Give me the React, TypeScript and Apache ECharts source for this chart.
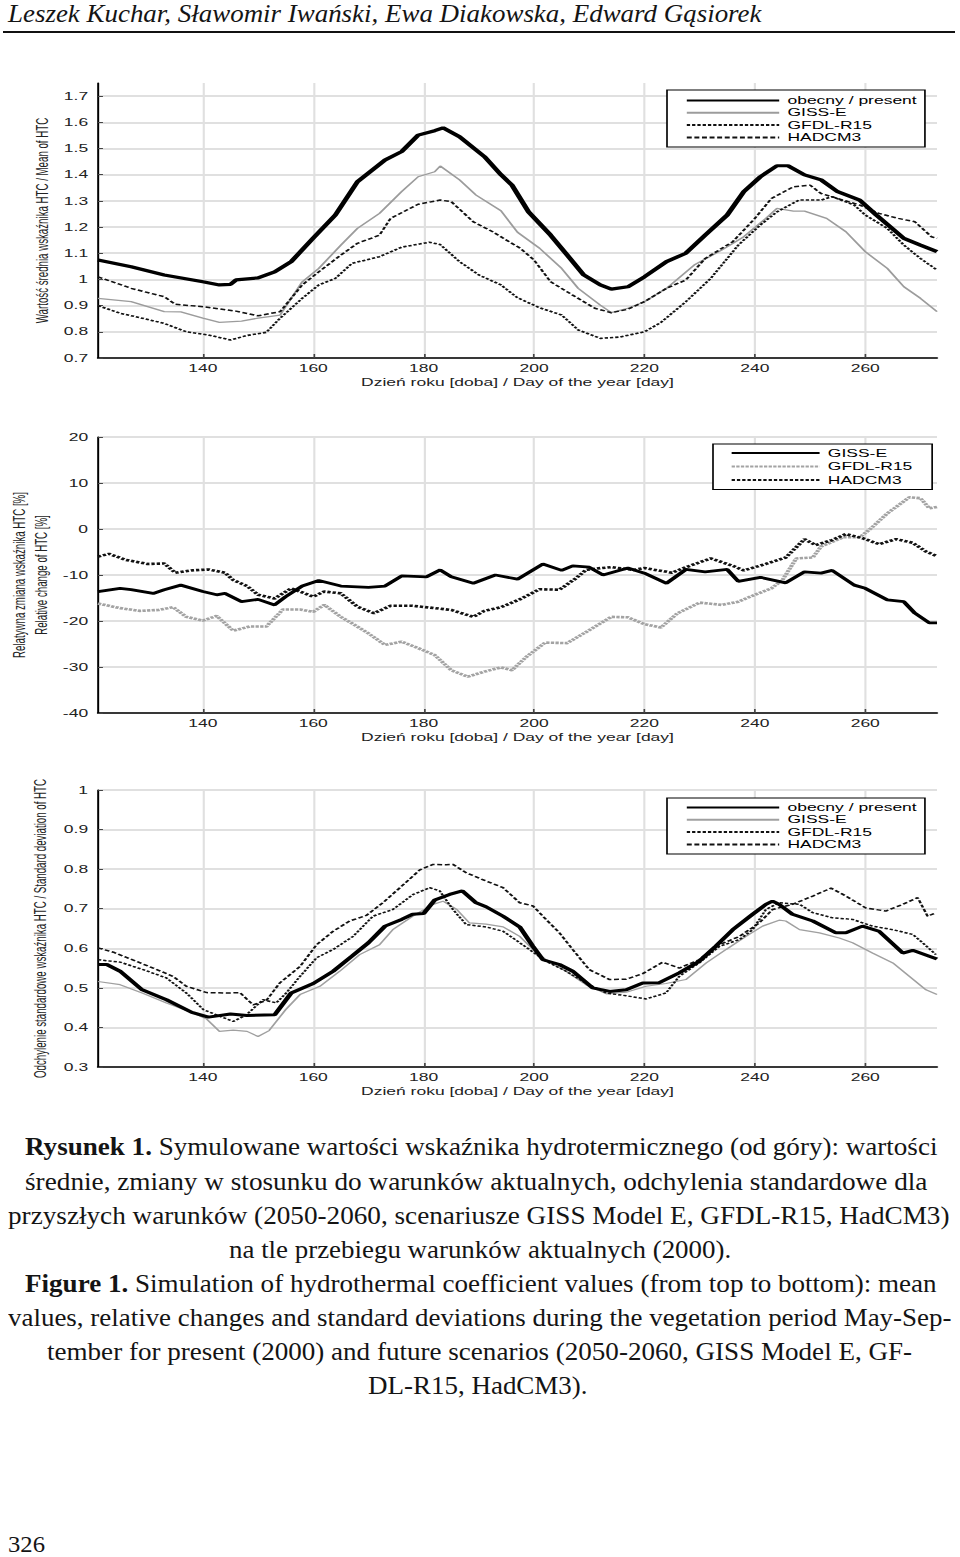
import React, { useEffect, useLayoutEffect, useRef, useState } from "react";
import * as echarts from "echarts";

type Pt = [number, number];

const S = 1.65; // horizontal stretch of the scanned figure
const FONT = "'Liberation Sans', Arial, Helvetica, sans-serif";
const SERIF = "'Liberation Serif', 'Times New Roman', serif";

const X_MIN = 121;
const X_MAX = 273;
const xTicks = [140, 160, 180, 200, 220, 240, 260];
const xName = "Dzień roku [doba] / Day of the year [day]";

const yTicks1 = [0.7, 0.8, 0.9, 1, 1.1, 1.2, 1.3, 1.4, 1.5, 1.6, 1.7];
const yTicks2 = [-40, -30, -20, -10, 0, 10, 20];
const yTicks3 = [0.3, 0.4, 0.5, 0.6, 0.7, 0.8, 0.9, 1];

const yName1 = "Wartość średnia wskaźnika HTC / Mean of HTC";
const yName2 = "Relatywna zmiana wskaźnika HTC [%]\nRelative change of HTC [%]";
const yName3 = "Odchylenie standardowe wskaźnika HTC / Standard deviation of HTC";

const NAME_PRESENT = "obecny / present";
const NAME_GISS = "GISS-E";
const NAME_GFDL = "GFDL-R15";
const NAME_HAD = "HADCM3";

// ---- Chart 1: mean HTC ----
const present1: Pt[] = [[121,1.074],[127,1.048],[133,1.017],[140,0.991],[143,0.979],[145,0.981],[146,0.998],[150,1.006],[153,1.029],[156,1.068],[160,1.158],[164,1.246],[168,1.373],[173,1.456],[176,1.488],[179,1.551],[182,1.568],[183.5,1.579],[186.5,1.545],[191,1.469],[194,1.40],[196,1.36],[199,1.258],[203,1.169],[206,1.093],[209,1.017],[212,0.979],[214,0.963],[217,0.972],[220,1.010],[224,1.068],[227.5,1.100],[231,1.169],[235,1.246],[238,1.335],[241,1.392],[244,1.434],[246,1.434],[249,1.399],[252,1.380],[255,1.335],[259,1.303],[262,1.246],[267,1.157],[270,1.131],[273,1.106]];
const giss1: Pt[] = [[121,0.928],[127,0.915],[133,0.877],[136,0.876],[140,0.852],[143,0.836],[147,0.841],[150,0.852],[154,0.864],[158,0.991],[161,1.042],[165,1.131],[168,1.195],[172,1.252],[176,1.335],[179,1.392],[182,1.411],[183,1.433],[186.5,1.380],[189.5,1.322],[194,1.262],[197,1.180],[201,1.119],[205,1.042],[208,0.966],[212,0.902],[214,0.873],[217,0.890],[220,0.915],[224,0.966],[229,1.055],[234,1.112],[238,1.163],[242,1.233],[244,1.271],[247,1.261],[249,1.261],[253,1.233],[256.5,1.182],[260,1.106],[264,1.042],[267,0.972],[270,0.928],[273,0.877]];
const gfdl1: Pt[] = [[121,0.900],[125,0.871],[129,0.852],[133,0.832],[137,0.800],[141,0.788],[145,0.769],[148,0.786],[151.5,0.798],[154,0.852],[158,0.928],[161,0.979],[164,1.004],[167,1.061],[172,1.087],[176,1.123],[181,1.142],[183,1.133],[186.5,1.068],[190,1.017],[194,0.979],[197,0.930],[201,0.892],[205,0.864],[208,0.807],[212,0.775],[215.5,0.780],[220,0.800],[223,0.836],[227.5,0.915],[232,1.004],[237,1.131],[241,1.208],[244,1.258],[248,1.303],[252,1.303],[254,1.316],[258,1.284],[260,1.246],[264,1.195],[267,1.131],[270,1.080],[273,1.036]];
const had1: Pt[] = [[121,1.010],[127,0.966],[133,0.934],[135,0.905],[140,0.896],[146,0.879],[150,0.861],[154,0.877],[158,0.979],[161,1.029],[165,1.093],[168,1.138],[172,1.169],[174,1.233],[179,1.287],[183,1.303],[185,1.297],[189,1.220],[192.5,1.182],[195,1.150],[197.5,1.119],[200,1.074],[203,0.991],[207,0.940],[211,0.890],[214,0.873],[217,0.886],[220,0.915],[224,0.966],[227.5,0.998],[231,1.080],[236,1.144],[240,1.233],[243,1.309],[247,1.354],[250,1.360],[252,1.328],[255,1.309],[259,1.284],[262.5,1.252],[266,1.233],[269,1.220],[272,1.163],[273,1.157]];

// ---- Chart 2: relative change [%] ----
const giss2: Pt[] = [[121,-13.6],[125,-12.9],[127,-13.2],[131,-14.0],[133,-13.2],[136,-12.2],[140,-13.6],[142.5,-14.3],[144,-14.0],[147,-15.8],[150,-15.3],[153,-16.5],[155,-14.7],[158,-12.4],[161,-11.2],[165,-12.4],[170,-12.7],[173,-12.4],[176,-10.2],[180.5,-10.4],[183,-8.9],[185,-10.4],[189,-11.8],[193,-10.0],[197,-10.9],[201.6,-7.6],[205,-9.0],[207,-8.0],[210,-8.3],[212.5,-10.0],[217,-8.5],[220,-9.6],[224,-11.8],[227.5,-8.8],[231,-9.3],[235,-8.8],[237,-11.4],[241,-10.5],[245.6,-11.7],[249,-9.3],[252,-9.6],[254,-9.0],[258,-12.2],[260,-12.9],[264,-15.4],[267,-15.8],[269,-18.3],[271.6,-20.4],[273,-20.4]];
const gfdl2: Pt[] = [[121,-16.2],[125,-17.2],[128.6,-17.8],[132,-17.6],[134.6,-17.0],[137,-19.1],[140,-19.9],[142.5,-18.9],[145.5,-22.1],[148.5,-21.2],[151.5,-21.2],[154.5,-17.5],[157.6,-17.5],[160,-18.0],[162,-16.5],[165,-19.1],[167,-20.5],[170,-22.7],[173,-25.2],[176,-24.5],[179,-25.9],[182,-27.4],[185,-30.7],[188,-32.1],[191,-31.0],[194,-30.1],[196,-30.7],[198.6,-27.8],[202,-24.7],[206,-24.8],[209,-22.7],[214,-19.1],[217,-19.2],[220,-20.7],[223,-21.4],[226,-18.3],[230,-16.0],[234,-16.5],[237,-15.8],[240,-14.3],[243,-12.9],[245,-11.1],[247.5,-6.4],[250.5,-6.2],[252,-3.8],[256,-1.8],[259,-1.8],[261,0.1],[264,3.4],[268,6.9],[270,6.7],[271.6,4.5],[273,4.8]];
const had2: Pt[] = [[121,-6.0],[123,-5.4],[126,-6.7],[130,-7.6],[133,-7.5],[135,-9.5],[138,-9.0],[141,-8.8],[144,-9.5],[145.5,-11.1],[148,-12.4],[150,-14.3],[153,-15.1],[156,-12.9],[160,-14.7],[162,-13.6],[165,-14.0],[168,-16.9],[171,-18.3],[174,-16.7],[178,-16.7],[182,-17.2],[185,-17.6],[189,-19.1],[191,-17.8],[194,-17.0],[197.4,-15.3],[201,-13.1],[204.6,-13.2],[207.6,-10.7],[209.4,-8.9],[212,-8.5],[214,-8.3],[218,-8.9],[220,-8.5],[225,-9.5],[227.5,-8.3],[232,-6.4],[236,-8.0],[238,-9.0],[242,-7.6],[245.6,-6.2],[249,-2.2],[251,-3.5],[254,-2.4],[256.5,-1.1],[259.5,-2.0],[262.5,-3.3],[265.6,-2.2],[268.6,-3.0],[271,-4.9],[273,-5.9]];

// ---- Chart 3: standard deviation ----
const present3: Pt[] = [[121,0.559],[122.6,0.559],[125,0.542],[129,0.495],[133.4,0.470],[138,0.438],[141,0.426],[145,0.434],[148,0.430],[153,0.432],[156,0.487],[160,0.511],[163.6,0.542],[167,0.580],[170,0.614],[173,0.656],[176,0.673],[178,0.686],[180,0.688],[182,0.722],[184.7,0.736],[187,0.745],[189.5,0.715],[191.3,0.705],[194.4,0.681],[197.4,0.654],[199.8,0.605],[201.6,0.571],[204.6,0.559],[207,0.542],[210.6,0.500],[213.7,0.491],[216.7,0.495],[219.7,0.512],[222.7,0.513],[226.3,0.538],[229.9,0.567],[232.9,0.605],[236,0.647],[239.6,0.686],[242,0.711],[243.2,0.719],[244.4,0.711],[246.8,0.686],[250.5,0.669],[254.7,0.639],[256.5,0.639],[259.5,0.656],[262.5,0.643],[266.8,0.588],[268.6,0.595],[271.6,0.580],[273,0.573]];
const giss3: Pt[] = [[121,0.516],[125,0.508],[129,0.487],[133.4,0.462],[138,0.438],[140.7,0.421],[143,0.390],[145.5,0.393],[148,0.390],[150,0.377],[152,0.392],[155,0.445],[157.6,0.483],[161.2,0.504],[164.8,0.542],[168.4,0.584],[172,0.609],[174.4,0.647],[178,0.681],[181.7,0.711],[183.5,0.719],[186,0.698],[188.3,0.664],[191.3,0.661],[194.4,0.654],[197.4,0.630],[199.8,0.597],[202.2,0.571],[205.8,0.542],[209.4,0.508],[213.1,0.485],[216.7,0.489],[220.3,0.504],[223.9,0.511],[227.5,0.521],[231.2,0.563],[234.8,0.597],[238.4,0.630],[241.4,0.656],[244.4,0.671],[245.6,0.669],[248.1,0.647],[251.7,0.639],[255.3,0.626],[257.7,0.614],[261.3,0.588],[265,0.563],[268,0.529],[271,0.495],[273,0.483]];
const gfdl3: Pt[] = [[121,0.571],[125,0.565],[129.2,0.546],[133.4,0.525],[137,0.487],[140.1,0.445],[143.1,0.428],[145.5,0.415],[147.9,0.432],[150.9,0.470],[153.3,0.462],[155.1,0.487],[157.6,0.529],[160.6,0.576],[163.6,0.597],[167.2,0.630],[170.8,0.681],[174.4,0.698],[178.1,0.736],[181.1,0.753],[182.9,0.745],[185.3,0.698],[187.7,0.660],[191.3,0.654],[194.4,0.643],[197.4,0.614],[202.2,0.567],[205.8,0.542],[209.4,0.512],[213.1,0.487],[216.7,0.480],[220.3,0.472],[223.9,0.487],[226.3,0.529],[229.9,0.563],[233.6,0.605],[237.2,0.622],[239.6,0.647],[242,0.698],[244.4,0.715],[248.1,0.711],[250.5,0.690],[254.1,0.677],[257.7,0.673],[261.3,0.656],[265,0.647],[268.6,0.635],[270.4,0.614],[272.8,0.584]];
const had3: Pt[] = [[121,0.601],[123.8,0.590],[127.4,0.570],[131,0.550],[134.6,0.529],[137,0.504],[140.7,0.488],[144.3,0.487],[146.7,0.488],[149.1,0.457],[151.5,0.468],[153.9,0.512],[157.6,0.554],[160.6,0.609],[163.6,0.643],[166.6,0.669],[169.6,0.683],[172.6,0.715],[175.7,0.753],[179.3,0.798],[181.7,0.812],[184.1,0.811],[185.3,0.812],[187.7,0.791],[191.3,0.770],[194.4,0.753],[197.4,0.715],[199.8,0.707],[201.6,0.681],[204.6,0.639],[207,0.597],[210,0.546],[213.7,0.521],[216.7,0.522],[219.7,0.536],[223.3,0.565],[226.3,0.550],[229.9,0.571],[232.9,0.605],[237.2,0.630],[240.8,0.664],[243.2,0.698],[246.8,0.711],[250.5,0.732],[253.8,0.752],[256.5,0.732],[260.1,0.702],[263.7,0.694],[266.8,0.711],[269.5,0.728],[271.3,0.681],[272.8,0.690]];

interface LineDef {
  name: string;
  data: Pt[];
  color: string;
  width: number;
  dash: any;
  z?: number;
}

interface LegendDef {
  left: number;
  top: number;
  padding: number[];
  itemWidth: number;
  itemGap: number;
}

interface ChartProps {
  top: number;
  height: number;
  gridTop: number;
  gridHeight: number;
  yMin: number;
  yMax: number;
  yTicks: number[];
  yName: string;
  yNameGap: number;
  lines: LineDef[];
  legend: LegendDef;
}

const GRID_LEFT = 98 / S;
const GRID_WIDTH = (937 - 98) / S;
const TEXT_COLOR = "#222";
const GRID_COLOR = "#e0e0e0";

function HtcChart(p: ChartProps) {
  const ref = useRef<HTMLDivElement>(null);
  useEffect(() => {
    const el = ref.current;
    if (!el) return;
    const chart = echarts.init(el, null, { renderer: "svg" });
    chart.setOption({
      animation: false,
      textStyle: { fontFamily: FONT },
      grid: {
        left: GRID_LEFT,
        top: p.gridTop,
        width: GRID_WIDTH,
        height: p.gridHeight,
        containLabel: false,
        outerBoundsMode: "none",
      },
      xAxis: {
        type: "value",
        min: X_MIN,
        max: X_MAX,
        name: xName,
        nameLocation: "middle",
        nameGap: 19,
        nameMoveOverlap: false,
        nameTextStyle: { fontSize: 10.6, color: TEXT_COLOR, fontFamily: FONT },
        axisLine: { show: true, onZero: false, lineStyle: { color: "#000", width: 1.5 } },
        axisTick: { show: true, inside: true, length: 4, customValues: xTicks, lineStyle: { color: "#444", width: 1 } },
        axisLabel: { customValues: xTicks, fontSize: 10.6, color: TEXT_COLOR, margin: 5, fontFamily: FONT },
        splitLine: { show: true, lineStyle: { color: GRID_COLOR, width: 1.3 } },
      },
      yAxis: {
        type: "value",
        min: p.yMin,
        max: p.yMax,
        name: p.yName,
        nameLocation: "middle",
        nameRotate: 90,
        nameGap: p.yNameGap,
        nameMoveOverlap: false,
        nameTextStyle: { fontSize: 9.7, lineHeight: 13.3, color: TEXT_COLOR, fontFamily: FONT },
        axisLine: { show: true, onZero: false, lineStyle: { color: "#000", width: 1.2 } },
        axisTick: { show: true, inside: true, length: 3, customValues: p.yTicks, lineStyle: { color: "#444", width: 1 } },
        axisLabel: { customValues: p.yTicks, fontSize: 10.6, color: TEXT_COLOR, margin: 6, fontFamily: FONT },
        splitLine: { show: true, lineStyle: { color: GRID_COLOR, width: 1.8 } },
      },
      legend: {
        orient: "vertical",
        left: p.legend.left,
        top: p.legend.top,
        padding: p.legend.padding,
        itemWidth: p.legend.itemWidth,
        itemHeight: 10,
        itemGap: p.legend.itemGap,
        borderColor: "#000",
        borderWidth: 1,
        backgroundColor: "#fff",
        selectedMode: false,
        itemStyle: { opacity: 0 },
        textStyle: { fontSize: 10.6, lineHeight: 11, color: "#000", fontFamily: FONT },
        data: p.lines.map((l) => l.name),
      },
      series: p.lines.map((l) => ({
        type: "line",
        name: l.name,
        data: l.data,
        symbol: "none",
        silent: true,
        z: l.z ?? 2,
        lineStyle: { color: l.color, width: l.width, type: l.dash },
        itemStyle: { color: l.color },
        emphasis: { disabled: true },
      })),
    });
    return () => chart.dispose();
  }, []);
  return (
    <div
      ref={ref}
      style={{
        position: "absolute",
        left: 0,
        top: p.top,
        width: 960 / S,
        height: p.height,
        transform: `scaleX(${S})`,
        transformOrigin: "0 0",
      }}
    />
  );
}

function FitLine(props: { left: number; top: number; width: number; size: number; italic?: boolean; children: React.ReactNode }) {
  const ref = useRef<HTMLSpanElement>(null);
  const [sx, setSx] = useState(1);
  useLayoutEffect(() => {
    const el = ref.current;
    if (!el) return;
    const w = el.offsetWidth;
    if (w > 0) setSx(props.width / w);
  }, [props.width]);
  return (
    <div
      style={{
        position: "absolute",
        left: props.left,
        top: props.top,
        whiteSpace: "nowrap",
        fontFamily: SERIF,
        fontSize: props.size,
        lineHeight: `${props.size}px`,
        fontStyle: props.italic ? "italic" : "normal",
        color: "#141414",
        transform: `scaleX(${sx})`,
        transformOrigin: "0 0",
      }}
    >
      <span ref={ref}>{props.children}</span>
    </div>
  );
}

const chart1Lines: LineDef[] = [
  { name: NAME_PRESENT, data: present1, color: "#000", width: 3.2, dash: "solid", z: 5 },
  { name: NAME_GISS, data: giss1, color: "#9c9c9c", width: 1.3, dash: "solid", z: 3 },
  { name: NAME_GFDL, data: gfdl1, color: "#111", width: 1.6, dash: [2, 1.2], z: 4 },
  { name: NAME_HAD, data: had1, color: "#111", width: 1.5, dash: [3, 1.6], z: 4 },
];

const chart2Lines: LineDef[] = [
  { name: NAME_GISS, data: giss2, color: "#000", width: 2.8, dash: "solid", z: 5 },
  { name: NAME_GFDL, data: gfdl2, color: "#a3a3a3", width: 2.6, dash: [2, 0.8], z: 3 },
  { name: NAME_HAD, data: had2, color: "#111", width: 2.6, dash: [2, 1.2], z: 4 },
];

const chart3Lines: LineDef[] = [
  { name: NAME_PRESENT, data: present3, color: "#000", width: 3.0, dash: "solid", z: 5 },
  { name: NAME_GISS, data: giss3, color: "#a0a0a0", width: 1.2, dash: "solid", z: 3 },
  { name: NAME_GFDL, data: gfdl3, color: "#111", width: 1.5, dash: [2, 1.2], z: 4 },
  { name: NAME_HAD, data: had3, color: "#111", width: 1.5, dash: [3, 1.6], z: 4 },
];

export default function App() {
  return (
    <div style={{ position: "absolute", left: 0, top: 0, width: 960, height: 1557, background: "#fff", overflow: "hidden" }}>
      <FitLine left={8} top={1} width={754} size={26} italic>
        Leszek Kuchar, Sławomir Iwański, Ewa Diakowska, Edward Gąsiorek
      </FitLine>
      <div style={{ position: "absolute", left: 3, top: 31, width: 952, height: 2, background: "#111" }} />

      <HtcChart
        top={40}
        height={370}
        gridTop={43}
        gridHeight={275}
        yMin={0.7}
        yMax={1.75}
        yTicks={yTicks1}
        yName={yName1}
        yNameGap={26.7}
        lines={chart1Lines}
        legend={{ left: 667 / S, top: 50, padding: [5, 5, 4, 11], itemWidth: 56, itemGap: 1.3 }}
      />
      <HtcChart
        top={400}
        height={360}
        gridTop={37}
        gridHeight={276}
        yMin={-40}
        yMax={20}
        yTicks={yTicks2}
        yName={yName2}
        yNameGap={27.3}
        lines={chart2Lines}
        legend={{ left: 713 / S, top: 44, padding: [3.5, 12, 4, 10.3], itemWidth: 53.3, itemGap: 2.5 }}
      />
      <HtcChart
        top={760}
        height={350}
        gridTop={30}
        gridHeight={277}
        yMin={0.3}
        yMax={1}
        yTicks={yTicks3}
        yName={yName3}
        yNameGap={27.9}
        lines={chart3Lines}
        legend={{ left: 667 / S, top: 38, padding: [4, 5, 4, 11], itemWidth: 56, itemGap: 1.3 }}
      />

      <FitLine left={25} top={1134} width={912} size={26}>
        <b>Rysunek 1.</b> Symulowane wartości wskaźnika hydrotermicznego (od góry): wartości
      </FitLine>
      <FitLine left={25} top={1169} width={902} size={26}>
        średnie, zmiany w stosunku do warunków aktualnych, odchylenia standardowe dla
      </FitLine>
      <FitLine left={8} top={1203} width={941} size={26}>
        przyszłych warunków (2050-2060, scenariusze GISS Model E, GFDL-R15, HadCM3)
      </FitLine>
      <FitLine left={229} top={1237} width={502} size={26}>
        na tle przebiegu warunków aktualnych (2000).
      </FitLine>
      <FitLine left={25} top={1271} width={912} size={26}>
        <b>Figure 1.</b> Simulation of hydrothermal coefficient values (from top to bottom): mean
      </FitLine>
      <FitLine left={8} top={1305} width={943} size={26}>
        values, relative changes and standard deviations during the vegetation period May-Sep-
      </FitLine>
      <FitLine left={47} top={1339} width={865} size={26}>
        tember for present (2000) and future scenarios (2050-2060, GISS Model E, GF-
      </FitLine>
      <FitLine left={368} top={1373} width={220} size={26}>
        DL-R15, HadCM3).
      </FitLine>
      <FitLine left={8} top={1532} width={37} size={24}>
        326
      </FitLine>
    </div>
  );
}
